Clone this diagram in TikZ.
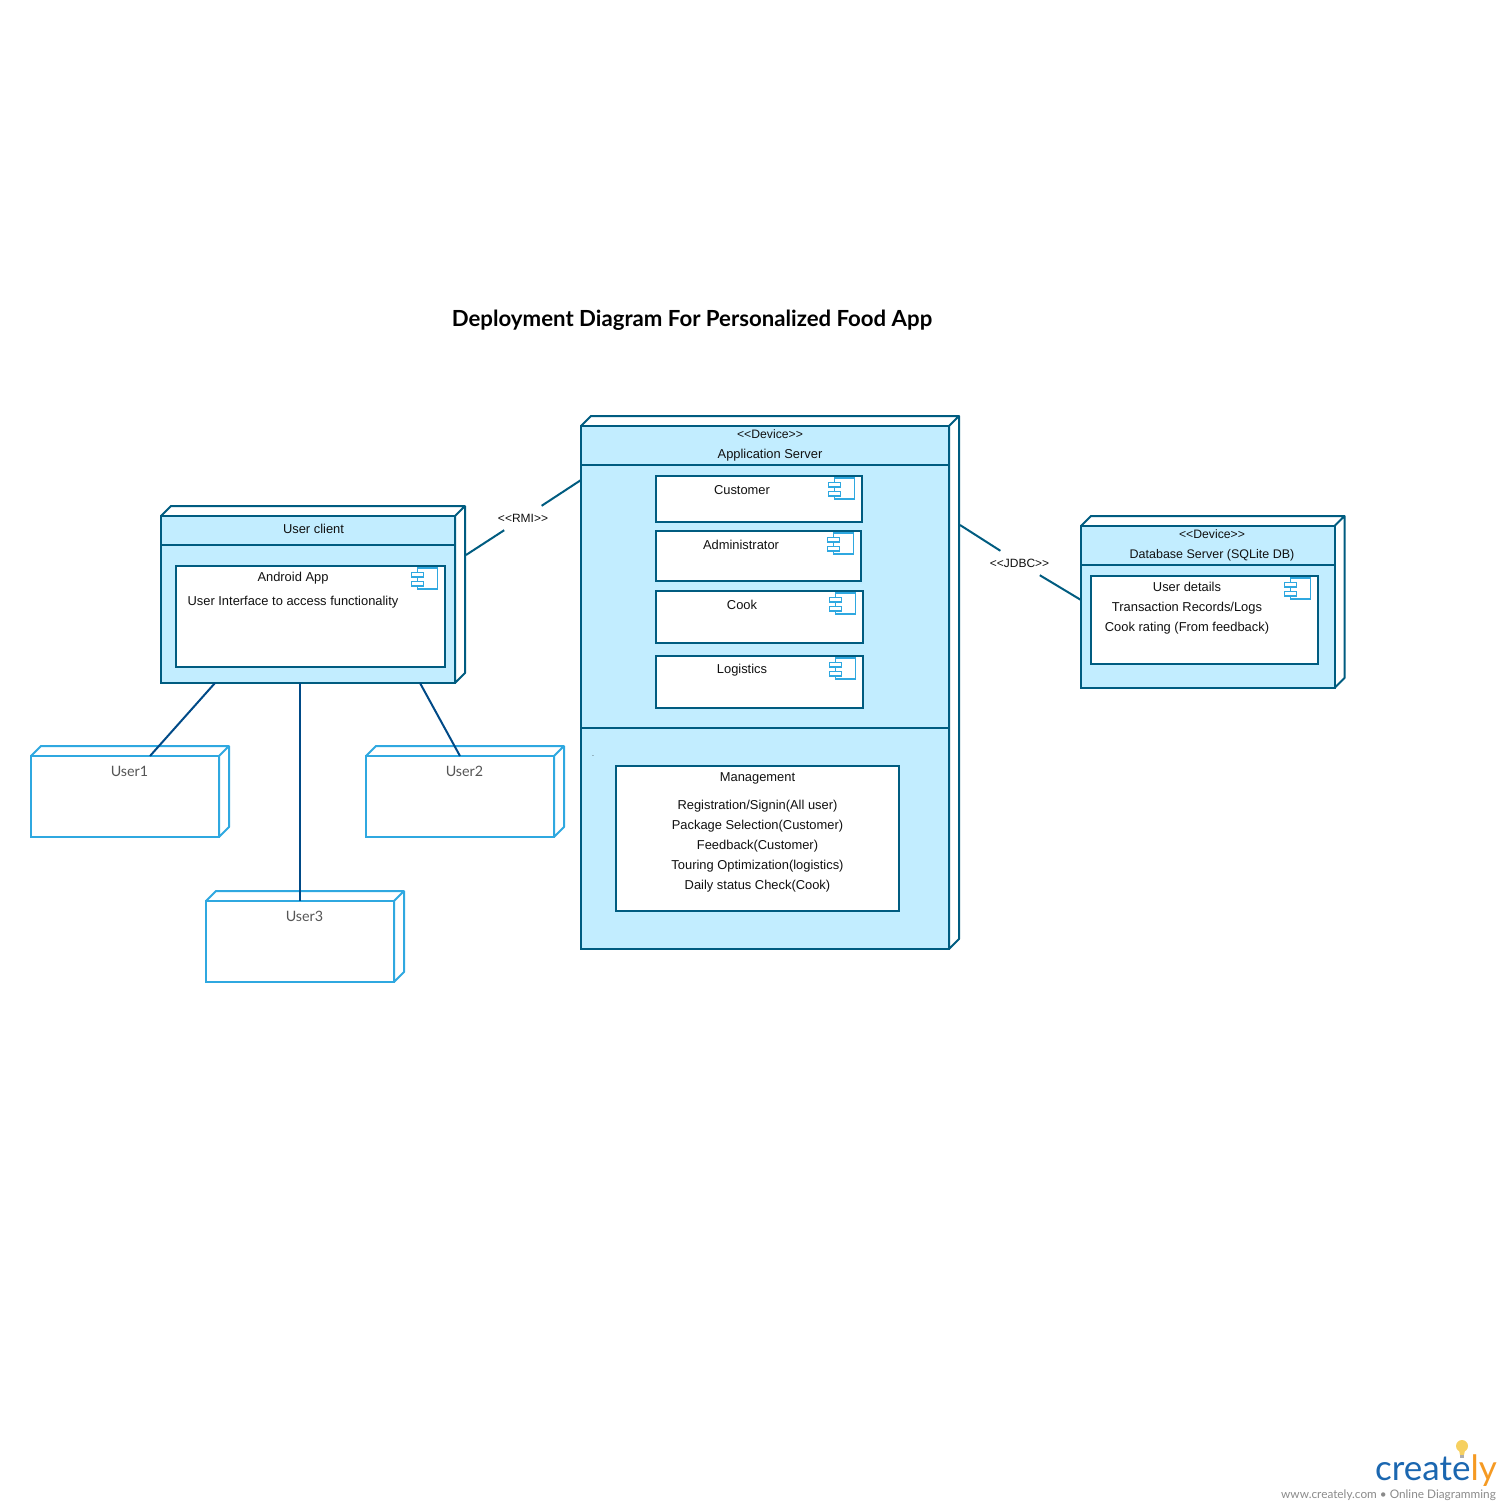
\documentclass[tikz,border=0pt]{standalone}
\usepackage{fontspec}
\usepackage{xcolor}
\usetikzlibrary{positioning,fit}
\setmainfont{Liberation Sans}
\newfontfamily\latofont{Lato}
\definecolor{deployRule}{HTML}{005C80}
\definecolor{deployFill}{HTML}{C2EDFF}
\definecolor{deploySky}{HTML}{2FA8E0}
\definecolor{deployLink}{HTML}{004A87}
\definecolor{deployInk}{HTML}{111111}
\definecolor{deployGrey}{HTML}{555555}
\definecolor{logoBlue}{HTML}{1B67B0}
\definecolor{logoOrange}{HTML}{F59A23}
\definecolor{logoBulb}{HTML}{F6D060}
\definecolor{logoGrey}{HTML}{8A8A8A}
\tikzset{
  face/.style={inner sep=0pt,outer sep=0pt,line width=2pt},
  devicebox/.style={face,draw=deployRule,fill=deployFill},
  partbox/.style={face,draw=deployRule,fill=white},
  userbox/.style={face,draw=deploySky,fill=white},
  markbox/.style={draw=deploySky,line width=1.2pt,inner sep=0pt,outer sep=0pt},
  lbl/.style={inner sep=0pt,text=deployInk,align=center,font=\fontsize{12.9}{20}\selectfont},
  userlbl/.style={inner sep=0pt,text=deployGrey,font=\latofont\fontsize{14.3}{16}\selectfont},
  linklbl/.style={fill=white,inner sep=0pt,minimum width=56pt,minimum height=24pt,text=deployInk,font=\fontsize{12}{14}\selectfont},
  wire/.style={draw=deployRule,line width=2pt},
  userwire/.style={draw=deployLink,line width=2pt},
}
\newcommand{\stereoLine}[1]{{\fontsize{12.2}{20}\selectfont <{}<#1>{}>}}
% name, left, top, right, bottom, box style, edge colour
\newcommand{\cubeNode}[7]{
  \filldraw[line width=2pt,draw=#7,fill=white,line join=round]
    (#2,#3) -- ++(10,-10) -- ++(#4-#2,0) -- ++(0,#5-#3) -- (#4,#5) -- (#4,#3) -- cycle
    (#4,#3) -- ++(10,-10);
  \node[#6,fit={(#2,#3) (#4,#5)}] (#1) {};
  \coordinate (#1Edge) at ([xshift=11pt]#1.east);
}
% name, left, top, right, bottom
\newcommand{\partNode}[5]{
  \node[partbox,fit={(#2,#3) (#4,#5)}] (#1) {};
}
% name, right, top of the component mark
\newcommand{\partMark}[3]{
  \node[markbox,fit={(#2-20,#3) (#2,#3+21)}] (#1) {};
  \node[markbox,fill=white,fit={(#2-26,#3+4.5) (#2-14,#3+9)}] (#1Top) {};
  \node[markbox,fill=white,fit={(#2-26,#3+13.5) (#2-14,#3+18)}] (#1Low) {};
}
\begin{document}
\begin{tikzpicture}[x=1pt,y=-1pt]
  \useasboundingbox (0,0) rectangle (1510,1510);

  \node[inner sep=0pt,text=black,font=\latofont\bfseries\fontsize{22.2}{24}\selectfont] (title) at (692,320) {Deployment Diagram For Personalized Food App};

  % user client
  \cubeNode{userClient}{161}{516}{455}{683}{devicebox}{deployRule}
  \draw[wire] (161,545) -- (455,545);
  \node[lbl] (userClientLbl) at (313.5,529) {User client};
  \partNode{androidApp}{176}{566}{445}{667}
  \partMark{androidMark}{437.5}{568}
  \node[lbl] (androidLbl) at (293,578) {Android App};
  \node[lbl] (androidText) at (293,602) {User Interface to access functionality};

  % application server
  \cubeNode{appServer}{581}{426}{949}{949}{devicebox}{deployRule}
  \draw[wire] (581,465) -- (949,465);
  \draw[wire] (581,728) -- (949,728);
  \node[lbl] (appLbl) at (770,445) {\stereoLine{Device}\\Application Server};
  \partNode{customer}{656}{476}{862}{522}
  \partMark{customerMark}{854.5}{478}
  \node[lbl] (customerLbl) at (742,490) {Customer};
  \partNode{administrator}{656}{531}{861}{581}
  \partMark{administratorMark}{853.5}{533}
  \node[lbl] (administratorLbl) at (741,545) {Administrator};
  \partNode{cook}{656}{591}{863}{643}
  \partMark{cookMark}{855.5}{593}
  \node[lbl] (cookLbl) at (742,605) {Cook};
  \partNode{logistics}{656}{656}{863}{708}
  \partMark{logisticsMark}{855.5}{658}
  \node[lbl] (logisticsLbl) at (742,670) {Logistics};
  \node[lbl,font=\fontsize{7}{8}\selectfont] (dotLbl) at (593,756) {.};
  \partNode{management}{616}{766}{899}{911}
  \node[lbl] (managementLbl) at (757.5,778) {Management};
  \node[lbl] (managementText) at (757.5,846) {Registration/Signin(All user)\\Package Selection(Customer)\\Feedback(Customer)\\Touring Optimization(logistics)\\Daily status Check(Cook)};

  % database server
  \cubeNode{dbServer}{1081}{526}{1334.5}{688}{devicebox}{deployRule}
  \draw[wire] (1081,565) -- (1334.5,565);
  \node[lbl,font=\fontsize{12.5}{20}\selectfont] (dbLbl) at (1212,545) {\stereoLine{Device}\\Database Server (SQLite DB)};
  \partNode{dbPart}{1091}{576}{1318}{664}
  \partMark{dbMark}{1310.5}{578}
  \node[lbl] (dbText) at (1187,608) {User details\\Transaction Records/Logs\\Cook rating (From feedback)};

  % users
  \cubeNode{userOne}{31}{756}{219}{837}{userbox}{deploySky}
  \node[userlbl] (userOneLbl) at (129.5,771.5) {User1};
  \cubeNode{userTwo}{366}{756}{554}{837}{userbox}{deploySky}
  \node[userlbl] (userTwoLbl) at (464.5,771.5) {User2};
  \cubeNode{userThree}{206}{901}{394}{982}{userbox}{deploySky}
  \node[userlbl] (userThreeLbl) at (304.5,916) {User3};

  % links
  \node[linklbl] (rmiLbl) at (523,518) {<{}<RMI>{}>};
  \node[linklbl,minimum width=62pt] (jdbcLbl) at (1019.5,563) {<{}<JDBC>{}>};
  \draw[wire] ([yshift=44.5pt]userClientEdge) -- (rmiLbl) -- ([yshift=207.5pt]appServer.west);
  \draw[wire] ([yshift=162.5pt]appServerEdge) -- (jdbcLbl) -- ([yshift=7pt]dbServer.west);
  \draw[userwire] ([xshift=-93pt]userClient.south) -- ([xshift=25pt]userOne.north);
  \draw[userwire] ([xshift=-8pt]userClient.south) -- (userThree.north);
  \draw[userwire] ([xshift=112pt]userClient.south) -- (userTwo.north);

  % logo
  \node[fill=logoBulb,circle,minimum size=12pt,inner sep=0pt] (logoBulb) at (1462,1446) {};
  \fill[logoBulb] (1459,1450) -- (1465,1450) -- (1464,1455) -- (1460,1455) -- cycle;
  \fill[logoGrey!70] (1460,1455) rectangle (1464,1458);
  \node[anchor=base west,inner sep=0pt,font=\latofont\fontsize{35}{38}\selectfont] (logoWord) at (1375,1480) {\textcolor{logoBlue}{create}\textcolor{logoOrange}{ly}};
  \node[inner sep=0pt,text=logoGrey,font=\latofont\fontsize{11.8}{14}\selectfont] (logoText) at (1388.5,1495) {www.creately.com • Online Diagramming};
\end{tikzpicture}
\end{document}
